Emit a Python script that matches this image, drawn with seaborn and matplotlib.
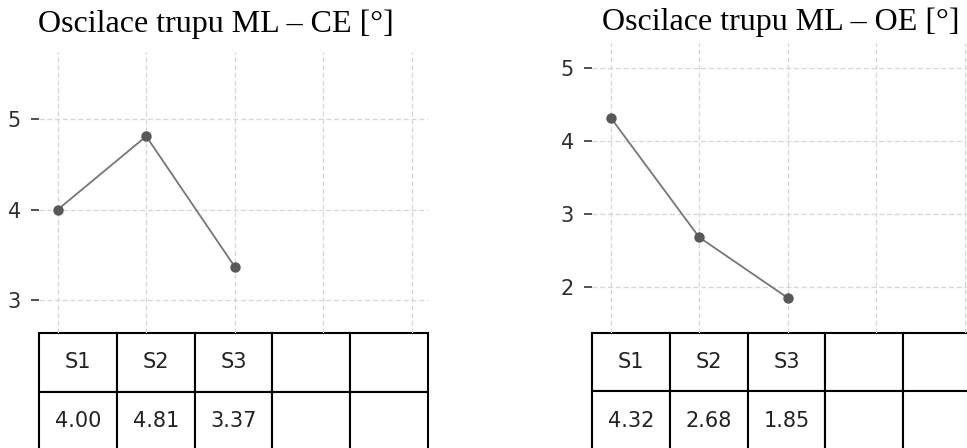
import matplotlib
matplotlib.use("Agg")
import matplotlib.pyplot as plt
import seaborn as sns

# Data
sessions = ["S1", "S2", "S3", "", ""]
ce_values = [4.00, 4.81, 3.37]
oe_values = [4.32, 2.68, 1.85]
ce_title = "Oscilace trupu ML – CE [°]"
oe_title = "Oscilace trupu ML – OE [°]"
ce_yticks = [3, 4, 5]
oe_yticks = [2, 3, 4, 5]

sns.set_theme(style="whitegrid")
plt.rcParams["font.family"] = ["DejaVu Sans"]

W, H = 967, 448
fig = plt.figure(figsize=(W / 100, H / 100), dpi=100)
fig.patch.set_facecolor("white")


def px_axes(x0, x1, y_top, y_bot):
    return fig.add_axes([x0 / W, 1 - y_bot / H, (x1 - x0) / W, (y_bot - y_top) / H])


def draw_panel(ax, values, yticks, ylim, table_h_px, axes_h_px):
    xs = list(range(len(values)))
    sns.lineplot(x=xs, y=values, ax=ax, color="#767676", linewidth=1.3,
                 marker="o", markersize=7.5, markerfacecolor="#585858",
                 markeredgecolor="#585858", markeredgewidth=0)
    ax.set_xlim(-0.21, 4.18)
    ax.set_ylim(*ylim)
    ax.set_xticks(range(len(sessions)))
    ax.set_xticklabels([""] * len(sessions))
    ax.set_yticks(yticks)
    ax.set_yticklabels([str(t) for t in yticks])
    ax.set_xlabel("")
    ax.set_ylabel("")
    ax.set_facecolor("white")
    for s in ax.spines.values():
        s.set_visible(False)
    ax.grid(True, color="#d6d6d6", linewidth=0.9, linestyle=(0, (4, 2.2)))
    ax.tick_params(axis="x", length=0)
    ax.tick_params(axis="y", left=True, length=6, width=1.2, color="#333333",
                   labelsize=15, labelcolor="#2e2e2e", pad=7)

    header = sessions
    row = [f"{v:.2f}" for v in values] + [""] * (len(sessions) - len(values))
    th = table_h_px / axes_h_px
    tbl = ax.table(cellText=[header, row], cellLoc="center",
                   bbox=[0, -th, 1, th])
    tbl.auto_set_font_size(False)
    tbl.set_fontsize(15)
    for cell in tbl.get_celld().values():
        cell.set_edgecolor("black")
        cell.set_linewidth(1.5)
        cell.set_facecolor("white")
        cell.get_text().set_color("#222222")
    tbl.set_clip_on(False)


ax1 = px_axes(39, 428, 52, 333)
draw_panel(ax1, ce_values, ce_yticks, (2.64, 5.74), 117, 281)

ax2 = px_axes(592, 981, 43, 333)
draw_panel(ax2, oe_values, oe_yticks, (1.37, 5.34), 117, 290)

fig.text(216 / W, 1 - 32 / H, ce_title, ha="center", va="baseline",
         fontsize=23, family=["Liberation Serif"], color="black")
fig.text(781 / W, 1 - 30 / H, oe_title, ha="center", va="baseline",
         fontsize=23, family=["Liberation Serif"], color="black")

fig.savefig("out.png", dpi=100, facecolor="white")
